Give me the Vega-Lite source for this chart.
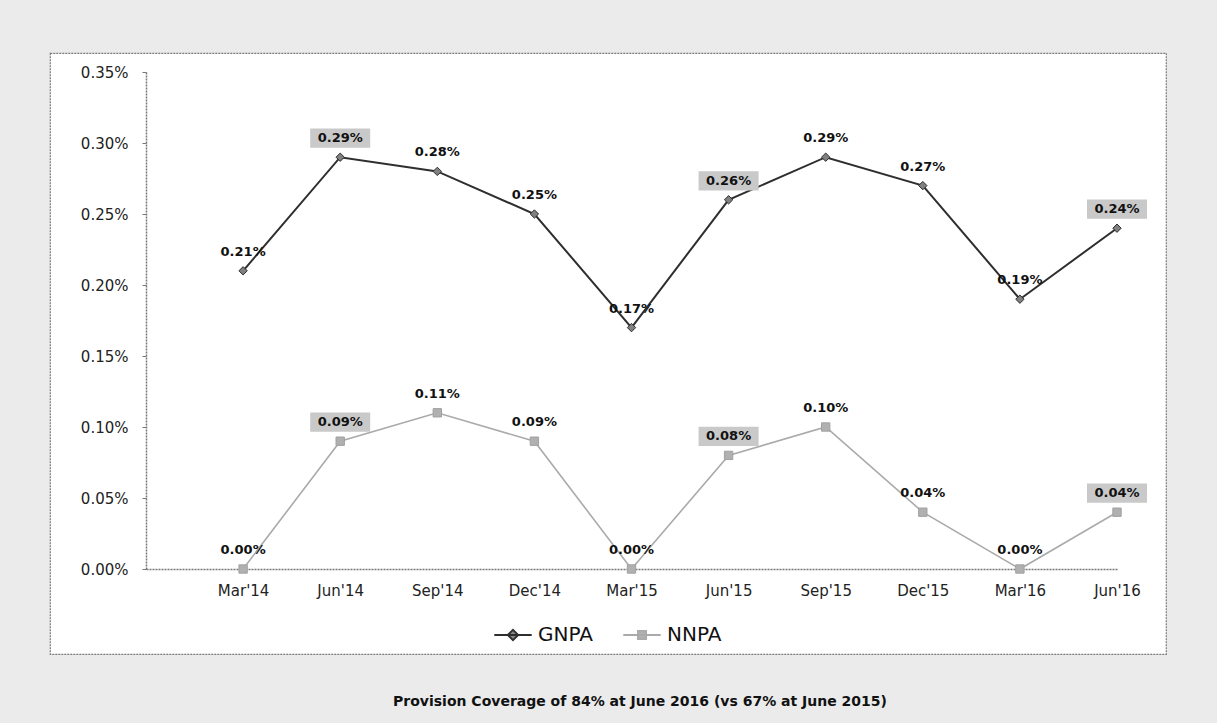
{
  "$schema": "https://vega.github.io/schema/vega-lite/v6.json",
  "width": 1116,
  "height": 601,
  "autosize": {"type": "none"},
  "padding": {"left": 50, "top": 53, "right": 51, "bottom": 69},
  "background": "#ebebeb",
  "config": {
    "view": {"fill": "white", "stroke": "#7a7a7a", "strokeDash": [2, 1], "strokeWidth": 1.2},
    "font": "DejaVu Sans"
  },
  "title": {
    "text": "Provision Coverage of 84% at June 2016 (vs 67% at June 2015)",
    "orient": "bottom",
    "anchor": "middle",
    "frame": "group",
    "offset": 41,
    "dx": 32,
    "font": "DejaVu Sans",
    "fontSize": 14,
    "fontWeight": "bold",
    "color": "#111"
  },
  "data": {
    "values": [
      {"q": "Mar'14", "series": "GNPA", "v": 0.0021},
      {"q": "Jun'14", "series": "GNPA", "v": 0.0029},
      {"q": "Sep'14", "series": "GNPA", "v": 0.0028},
      {"q": "Dec'14", "series": "GNPA", "v": 0.0025},
      {"q": "Mar'15", "series": "GNPA", "v": 0.0017},
      {"q": "Jun'15", "series": "GNPA", "v": 0.0026},
      {"q": "Sep'15", "series": "GNPA", "v": 0.0029},
      {"q": "Dec'15", "series": "GNPA", "v": 0.0027},
      {"q": "Mar'16", "series": "GNPA", "v": 0.0019},
      {"q": "Jun'16", "series": "GNPA", "v": 0.0024},
      {"q": "Mar'14", "series": "NNPA", "v": 0.0},
      {"q": "Jun'14", "series": "NNPA", "v": 0.0009},
      {"q": "Sep'14", "series": "NNPA", "v": 0.0011},
      {"q": "Dec'14", "series": "NNPA", "v": 0.0009},
      {"q": "Mar'15", "series": "NNPA", "v": 0.0},
      {"q": "Jun'15", "series": "NNPA", "v": 0.0008},
      {"q": "Sep'15", "series": "NNPA", "v": 0.0010},
      {"q": "Dec'15", "series": "NNPA", "v": 0.0004},
      {"q": "Mar'16", "series": "NNPA", "v": 0.0},
      {"q": "Jun'16", "series": "NNPA", "v": 0.0004}
    ]
  },
  "encoding": {
    "x": {
      "field": "q",
      "type": "ordinal",
      "sort": null,
      "scale": {"type": "point", "range": [96, 1067], "padding": 0.5, "align": 1},
      "axis": {
        "title": null,
        "offset": -85,
        "labelAngle": 0,
        "ticks": false,
        "labelPadding": 14,
        "labelFont": "DejaVu Sans",
        "labelFontSize": 15,
        "labelColor": "#222",
        "domainColor": "#777",
        "domainDash": [2, 1],
        "domainWidth": 1.5,
        "grid": false
      }
    },
    "y": {
      "field": "v",
      "type": "quantitative",
      "scale": {"domain": [0, 0.0035], "range": [516, 19], "nice": false, "zero": true},
      "axis": {
        "title": null,
        "offset": -96,
        "values": [0, 0.0005, 0.001, 0.0015, 0.002, 0.0025, 0.003, 0.0035],
        "format": ".2%",
        "grid": false,
        "tickSize": 4,
        "tickColor": "#777",
        "labelPadding": 14,
        "labelFont": "DejaVu Sans",
        "labelFontSize": 15,
        "labelColor": "#222",
        "domainColor": "#777",
        "domainDash": [2, 1],
        "domainWidth": 1.5
      }
    }
  },
  "layer": [
    {
      "mark": {"type": "line"},
      "encoding": {
        "color": {
          "field": "series",
          "type": "nominal",
          "scale": {"domain": ["GNPA", "NNPA"], "range": ["#2e2e2e", "#aaaaaa"]},
          "legend": {
            "title": null,
            "orient": "none",
            "direction": "horizontal",
            "legendX": 443,
            "legendY": 562,
            "labelFont": "DejaVu Sans",
            "labelFontSize": 20,
            "labelColor": "#111",
            "symbolSize": 1400,
            "columnPadding": 26,
            "labelOffset": 5,
            "encode": {
              "symbols": {
                "update": {
                  "shape": {"signal": "datum.value === 'GNPA' ? 'M-1,0H1M-0.28,0L0,-0.28L0.28,0L0,0.28Z' : 'M-1,0H1M-0.22,-0.22H0.22V0.22H-0.22Z'"},
                  "fill": {"signal": "datum.value === 'GNPA' ? '#888888' : '#b0b0b0'"},
                  "stroke": {"signal": "datum.value === 'GNPA' ? '#2e2e2e' : '#aaaaaa'"},
                  "strokeWidth": {"value": 1.8},
                  "opacity": {"value": 1},
                  "fillOpacity": {"value": 1}
                }
              }
            }
          }
        },
        "strokeWidth": {
          "condition": {"test": "datum.series === 'GNPA'", "value": 2},
          "value": 1.6
        }
      }
    },
    {
      "mark": {"type": "point", "filled": true, "size": 70, "strokeWidth": 1, "opacity": 1},
      "encoding": {
        "shape": {
          "condition": {"test": "datum.series === 'GNPA'", "value": "diamond"},
          "value": "square"
        },
        "fill": {
          "condition": {"test": "datum.series === 'GNPA'", "value": "#808080"},
          "value": "#b0b0b0"
        },
        "stroke": {
          "condition": {"test": "datum.series === 'GNPA'", "value": "#2e2e2e"},
          "value": "#a0a0a0"
        }
      }
    },
    {
      "transform": [{"filter": "indexof(datum.q, 'Jun') === 0"}],
      "mark": {
        "type": "point",
        "filled": true,
        "shape": "M-1,-0.32H1V0.32H-1Z",
        "size": 3600,
        "color": "#c9c9c9",
        "opacity": 1,
        "yOffset": -19
      }
    },
    {
      "mark": {
        "type": "text",
        "dy": -19,
        "font": "DejaVu Sans",
        "fontSize": 13,
        "fontWeight": "bold",
        "color": "#111",
        "baseline": "middle"
      },
      "encoding": {
        "text": {"field": "v", "type": "quantitative", "format": ".2%"}
      }
    }
  ]
}
